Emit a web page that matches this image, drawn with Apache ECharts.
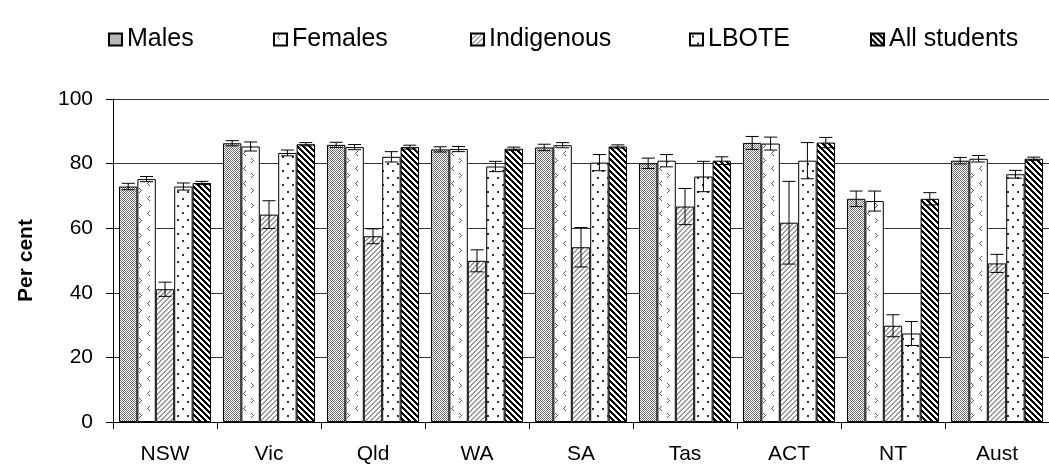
<!DOCTYPE html>
<html>
<head>
<meta charset="utf-8">
<script src="https://cdn.jsdelivr.net/npm/echarts@6/dist/echarts.min.js"></script>
<style>
    html, body { margin: 0; padding: 0; background: #fff; }
    #chart { width: 1049px; height: 468px; }
</style>
</head>
<body>
<div id="chart"></div>
<script>
// 数据
var categories = ['NSW', 'Vic', 'Qld', 'WA', 'SA', 'Tas', 'ACT', 'NT', 'Aust'];
var seriesNames = ['Males', 'Females', 'Indigenous', 'LBOTE', 'All students'];
var males = [72.9, 86.3, 85.8, 84.4, 85.0, 80.1, 86.4, 69.1, 80.9];
var malesErr = [1.0, 0.8, 0.8, 0.8, 1.0, 1.6, 2.0, 2.4, 1.0];
var females = [75.2, 85.3, 85.1, 84.5, 85.7, 80.9, 86.2, 68.4, 81.5];
var femalesErr = [0.8, 1.4, 0.8, 0.8, 0.8, 1.9, 2.0, 3.1, 1.0];
var indigenous = [41.1, 64.2, 57.5, 49.9, 54.1, 66.7, 61.7, 29.8, 49.1];
var indigenousErr = [2.2, 4.3, 2.3, 3.4, 6.1, 5.6, 12.8, 3.4, 2.8];
var lbote = [72.9, 83.3, 82.1, 79.1, 80.3, 76.0, 80.9, 27.4, 76.7];
var loteErr = [1.1, 0.9, 1.6, 1.6, 2.5, 4.7, 5.6, 3.7, 1.2];
var allStudents = [74.0, 86.0, 85.1, 84.6, 85.3, 80.9, 86.5, 69.1, 81.5];
var allErr = [0.5, 0.5, 0.6, 0.5, 0.5, 1.2, 1.6, 1.9, 0.5];
var yTicks = [0, 20, 40, 60, 80, 100];

var values = [males, females, indigenous, lbote, allStudents];
var errors = [malesErr, femalesErr, indigenousErr, loteErr, allErr];

// 填充图案
function makeTile(w, h, bg, fg, test) {
    var c = document.createElement('canvas');
    c.width = w; c.height = h;
    var ctx = c.getContext('2d');
    ctx.fillStyle = bg;
    ctx.fillRect(0, 0, w, h);
    ctx.fillStyle = fg;
    for (var y = 0; y < h; y++) {
        for (var x = 0; x < w; x++) {
            if (test(x, y)) ctx.fillRect(x, y, 1, 1);
        }
    }
    return c;
}
var chevrons = [[5,1],[4,2],[3,3],[4,4],[5,5],[11,8],[12,9],[13,10],[12,11],[11,12]];
var dots = [[2,2],[3,2],[2,3],[3,3],[7,9],[8,9],[7,10],[8,10]];
var tiles = [
    makeTile(4, 4, '#ffffff', '#707070', function (x, y) { return (x + y) % 2 === 0 || (x === 1 && y === 3); }),
    makeTile(16, 15, '#ffffff', '#555555', function (x, y) {
        return chevrons.some(function (p) { return p[0] === x && p[1] === y; });
    }),
    makeTile(5, 5, '#ffffff', '#9a9a9a', function (x, y) { return (x + y) % 5 < 2; }),
    makeTile(10, 14, '#ffffff', '#333333', function (x, y) {
        return dots.some(function (p) { return p[0] === x && p[1] === y; });
    }),
    makeTile(6, 6, '#ffffff', '#000000', function (x, y) { return (x - y + 6) % 6 < 3; })
];

var gapRatio = 0.115;
var fontName = '"Liberation Sans", Arial, sans-serif';

var myChart = echarts.init(document.getElementById('chart'));

var legendLeft = [103, 268, 465, 684, 865];
var legends = seriesNames.map(function (n, i) {
    return {
        data: [n],
        left: legendLeft[i],
        top: 22,
        itemWidth: 13,
        itemHeight: 12,
        selectedMode: false,
        icon: 'rect',
        textStyle: { fontFamily: fontName, fontSize: 25, color: '#000' }
    };
});

var series = [];
seriesNames.forEach(function (n, i) {
    series.push({
        name: n,
        type: 'bar',
        data: values[i],
        barGap: '0%',
        barCategoryGap: (gapRatio * 100) + '%',
        itemStyle: {
            color: { image: tiles[i], repeat: 'repeat' },
            borderColor: '#000',
            borderWidth: 1
        },
        silent: true,
        z: 2
    });
});
// 误差线
seriesNames.forEach(function (n, k) {
    series.push({
        type: 'custom',
        silent: true,
        z: 5,
        encode: { x: 0, y: 1 },
        data: values[k].map(function (v, i) { return [i, v, errors[k][i]]; }),
        renderItem: function (params, api) {
            var ci = api.value(0), v = api.value(1), e = api.value(2);
            var c = api.coord([ci, v]);
            var band = api.size([1, 0])[0];
            var bw = band * (1 - gapRatio) / 5;
            var x = c[0] + (k - 2) * bw;
            var t = api.coord([ci, v + e])[1];
            var b = api.coord([ci, v - e])[1];
            var half = 6.5;
            var st = { stroke: '#000', lineWidth: 1 };
            return {
                type: 'group',
                children: [
                    { type: 'line', shape: { x1: x, y1: t, x2: x, y2: b }, style: st },
                    { type: 'line', shape: { x1: x - half, y1: t, x2: x + half, y2: t }, style: st },
                    { type: 'line', shape: { x1: x - half, y1: b, x2: x + half, y2: b }, style: st }
                ]
            };
        }
    });
});

var option = {
    animation: false,
    backgroundColor: '#fff',
    legend: legends,
    grid: { left: 113, top: 99, width: 958, height: 323 },
    xAxis: {
        type: 'category',
        data: categories,
        axisLine: { lineStyle: { color: '#000', width: 1 } },
        axisTick: { show: true, length: 7, lineStyle: { color: '#000' } },
        axisLabel: { fontFamily: fontName, fontSize: 21, color: '#000', margin: 22 },
        splitLine: { show: false }
    },
    yAxis: {
        type: 'value',
        min: yTicks[0],
        max: yTicks[yTicks.length - 1],
        interval: 20,
        name: 'Per cent',
        nameLocation: 'middle',
        nameGap: 76,
        nameTextStyle: { fontFamily: fontName, fontSize: 21, fontWeight: 'bold', color: '#000' },
        axisLine: { show: true, lineStyle: { color: '#000', width: 1 } },
        axisTick: { show: true, length: 7, lineStyle: { color: '#000' } },
        axisLabel: { fontFamily: fontName, fontSize: 21, color: '#000', margin: 20 },
        splitLine: { show: true, lineStyle: { color: '#333', width: 1 } }
    },
    series: series
};

myChart.setOption(option);
</script>
</body>
</html>
